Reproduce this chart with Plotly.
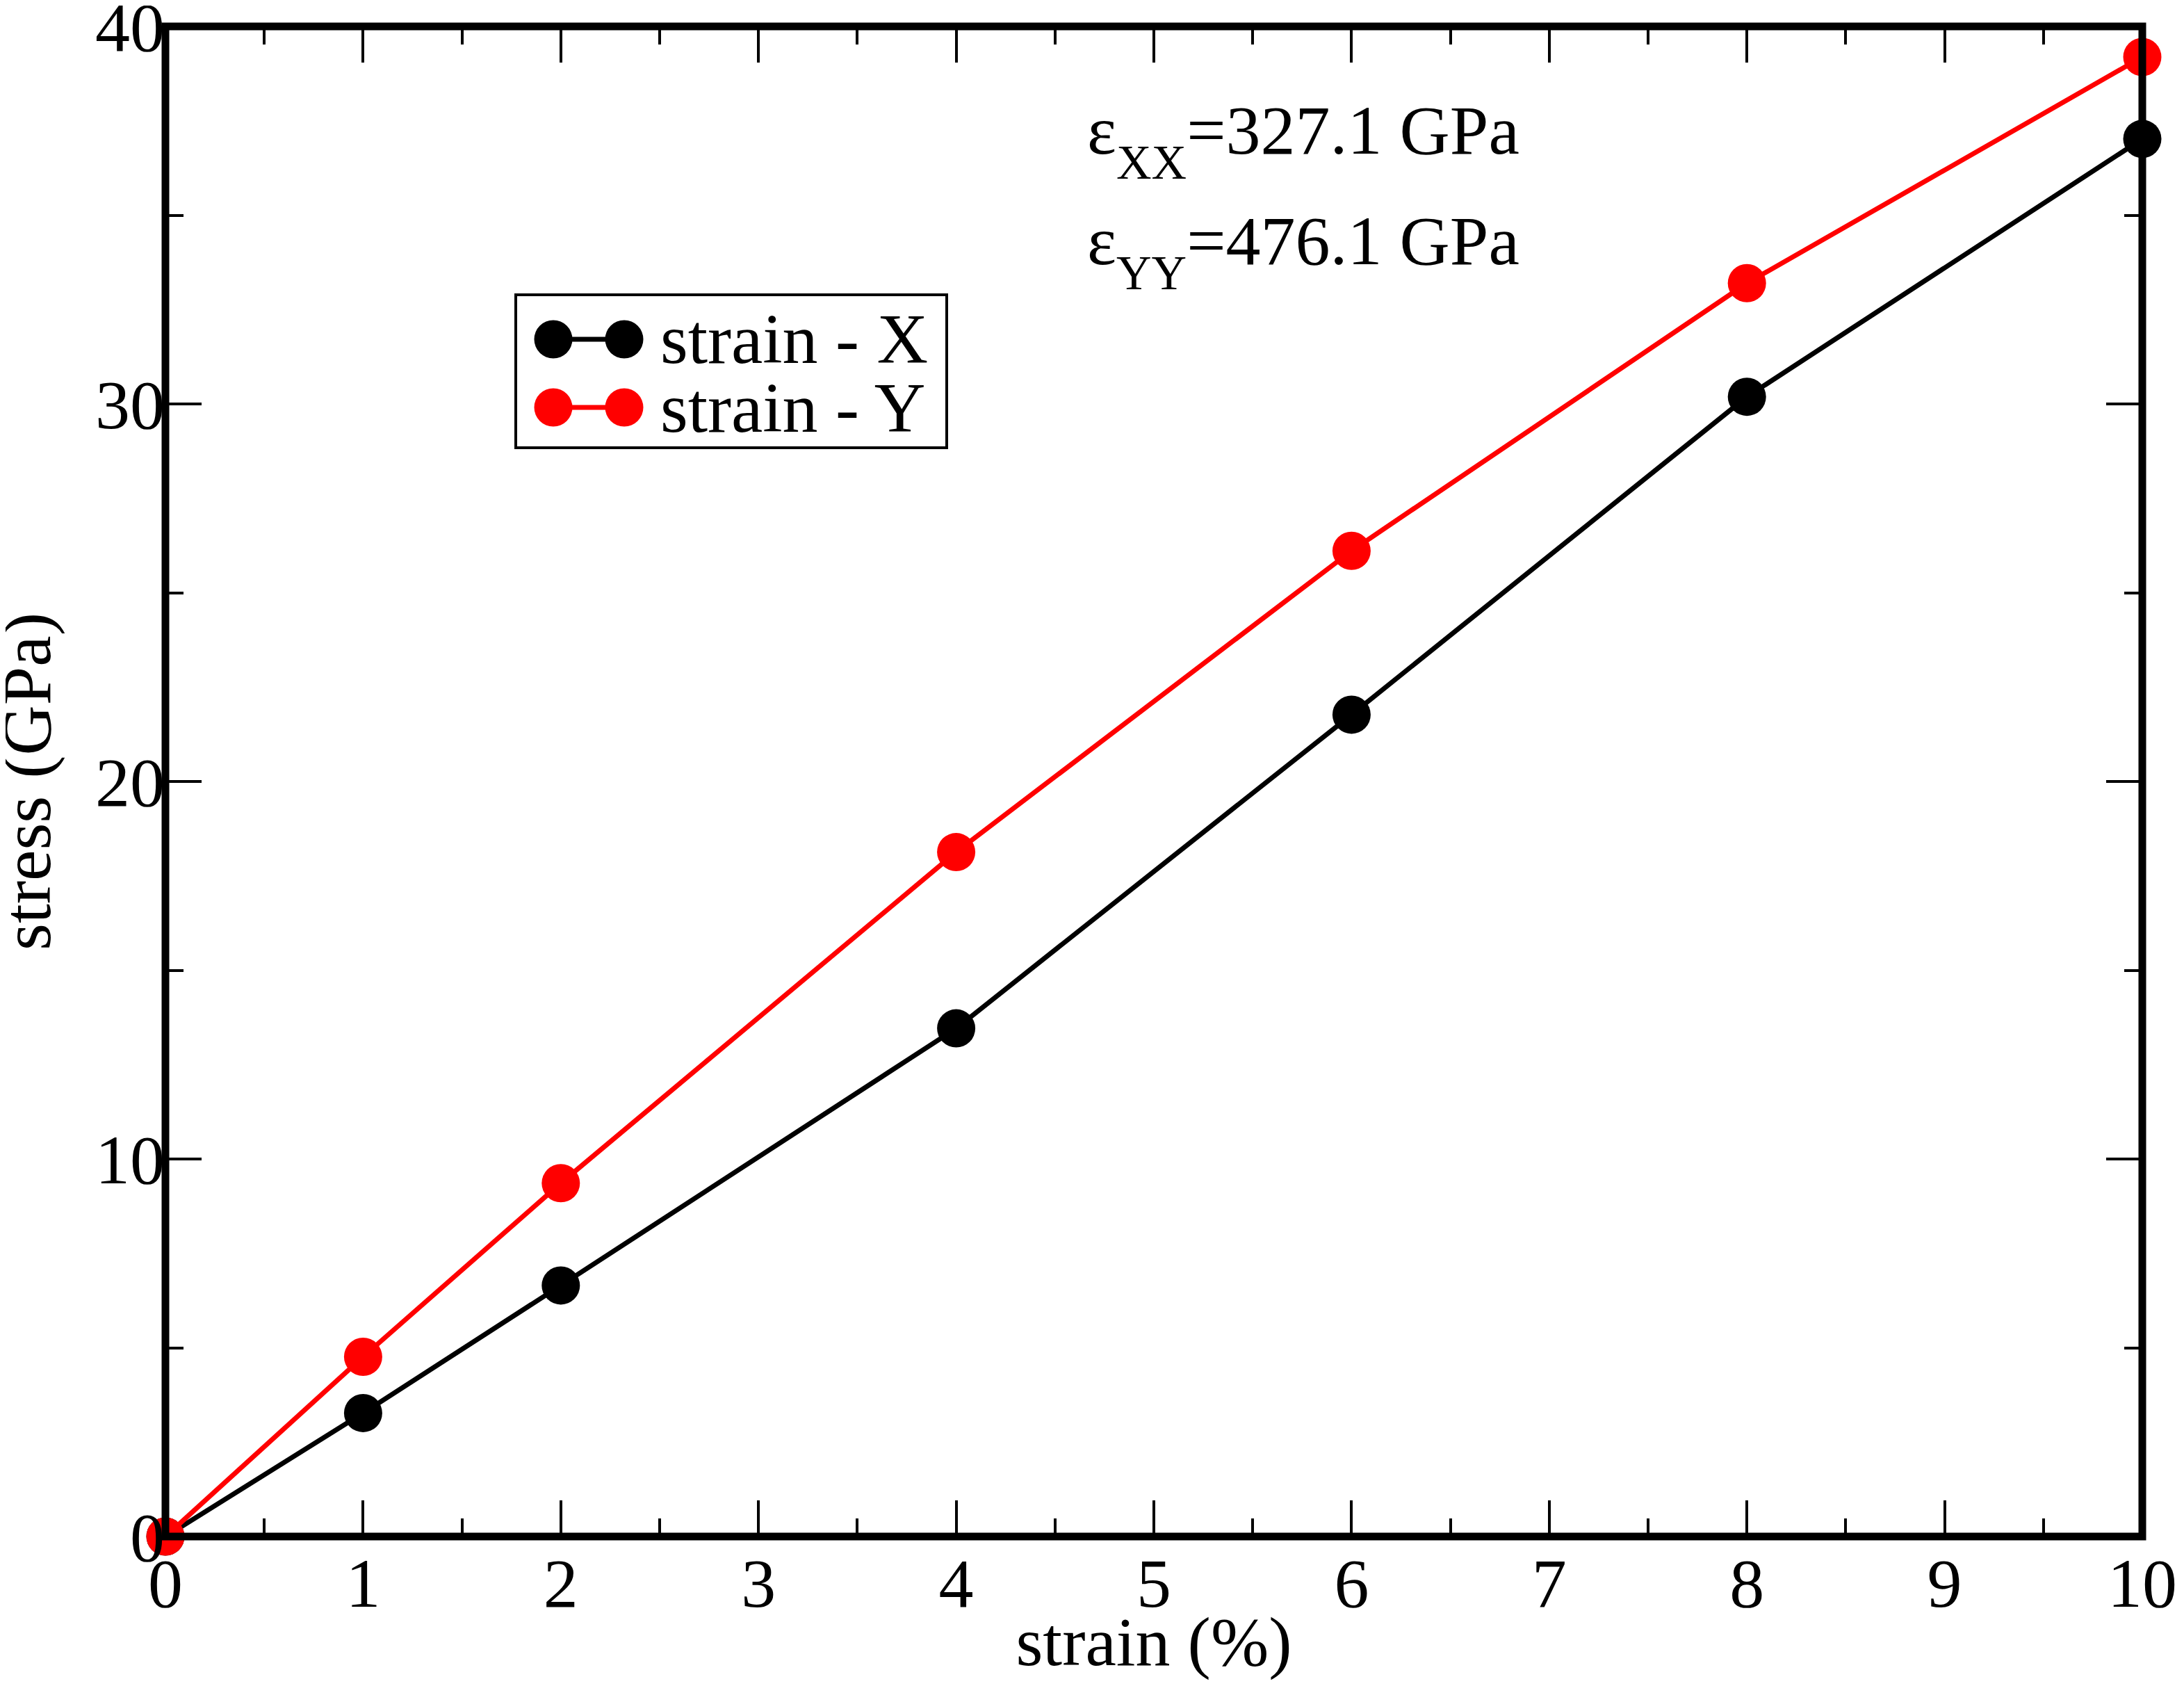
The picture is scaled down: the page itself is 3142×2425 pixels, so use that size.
import plotly.graph_objects as go

# ---- data ----
strain = [0, 1, 2, 4, 6, 8, 10]
stress_x = [0.0, 3.27, 6.65, 13.46, 21.77, 30.19, 37.02]
stress_y = [0.0, 4.76, 9.36, 18.13, 26.11, 33.20, 39.19]
series_names = ["strain - X", "strain - Y"]
series_colors = ["#000000", "#ff0000"]
x_title = "strain (%)"
y_title = "stress (GPa)"
note_symbols = ["XX", "YY"]
note_values = ["=327.1 GPa", "=476.1 GPa"]

OFF = 8                      # page body margin in the browser
W, H = 3142 - 2 * OFF, 2425 - 2 * OFF
# plot edges in screen pixels, converted to figure pixels
PL, PR, PT, PB = 238 - OFF, 3082 - OFF, 38 - OFF, 2210 - OFF
FONT = "Liberation Serif"


def fx(sx):
    return (sx - OFF - PL) / (PR - PL)


def fy(sy):
    return (PB - (sy - OFF)) / (PB - PT)


fig = go.Figure()
for name, ys, col in zip(series_names, [stress_x, stress_y], series_colors):
    fig.add_trace(go.Scatter(
        x=strain, y=ys, name=name, mode="lines+markers",
        line=dict(color=col, width=7),
        marker=dict(color=col, size=55),
        cliponaxis=False, showlegend=False,
    ))

axis_common = dict(
    showline=False, mirror="ticks", showgrid=False, zeroline=False,
    ticks="inside", ticklen=52, tickwidth=4, tickcolor="black",
    ticklabeloverflow="allow",
    tickfont=dict(family=FONT, size=100, color="black"),
    title_font=dict(family=FONT, size=100, color="black"),
)

fig.update_xaxes(
    range=[0, 10], dtick=1, tick0=0,
    minor=dict(ticks="inside", ticklen=26, tickwidth=4, dtick=0.5, tickcolor="black"),
    title=dict(text=x_title, standoff=8),
    **axis_common,
)
fig.update_yaxes(
    range=[0, 40], dtick=10, tick0=0,
    minor=dict(ticks="inside", ticklen=26, tickwidth=4, dtick=5, tickcolor="black"),
    **axis_common,
)

shapes = [
    # frame
    dict(type="rect", xref="paper", yref="paper", x0=0, x1=1, y0=0, y1=1,
         line=dict(color="black", width=11), layer="above"),
    # legend box
    dict(type="rect", xref="paper", yref="paper",
         x0=fx(742), x1=fx(1362), y0=fy(644), y1=fy(424),
         line=dict(color="black", width=4), fillcolor="white", layer="above"),
]
annotations = []
row_y = [488, 586]
for name, col, ry in zip(series_names, series_colors, row_y):
    shapes.append(dict(type="line", xref="paper", yref="paper",
                       x0=fx(796), x1=fx(898), y0=fy(ry), y1=fy(ry),
                       line=dict(color=col, width=7), layer="above"))
    for cx in (796, 898):
        shapes.append(dict(type="circle", xref="paper", yref="paper",
                           xsizemode="pixel", ysizemode="pixel",
                           xanchor=fx(cx), yanchor=fy(ry),
                           x0=-27.5, x1=27.5, y0=-27.5, y1=27.5,
                           line=dict(color=col, width=0), fillcolor=col, layer="above"))
    annotations.append(dict(xref="paper", yref="paper", x=fx(948), y=fy(ry),
                            xanchor="left", yanchor="middle", showarrow=False,
                            text=name, font=dict(family=FONT, size=102, color="black")))

for sym, val, ty in zip(note_symbols, note_values, [202, 361]):
    txt = ("ε<sub><sub><span style=\"font-size:143%\">" + sym +
           "</span></sub></sub>" + val)
    annotations.append(dict(xref="paper", yref="paper", x=fx(1562), y=fy(ty),
                            xanchor="left", yanchor="middle", showarrow=False,
                            text=txt, font=dict(family=FONT, size=100, color="black")))

# y-axis title (placed as rotated text beside the axis)
annotations.append(dict(xref="paper", yref="paper", x=fx(38), y=fy(1124),
                        xanchor="center", yanchor="middle", showarrow=False,
                        textangle=-90, text=y_title,
                        font=dict(family=FONT, size=100, color="black")))

fig.update_layout(
    width=W, height=H,
    margin=dict(l=PL, r=W - PR, t=PT, b=H - PB, autoexpand=False),
    paper_bgcolor="white", plot_bgcolor="white",
    shapes=shapes, annotations=annotations, showlegend=False,
)

fig.write_html("out.html")
